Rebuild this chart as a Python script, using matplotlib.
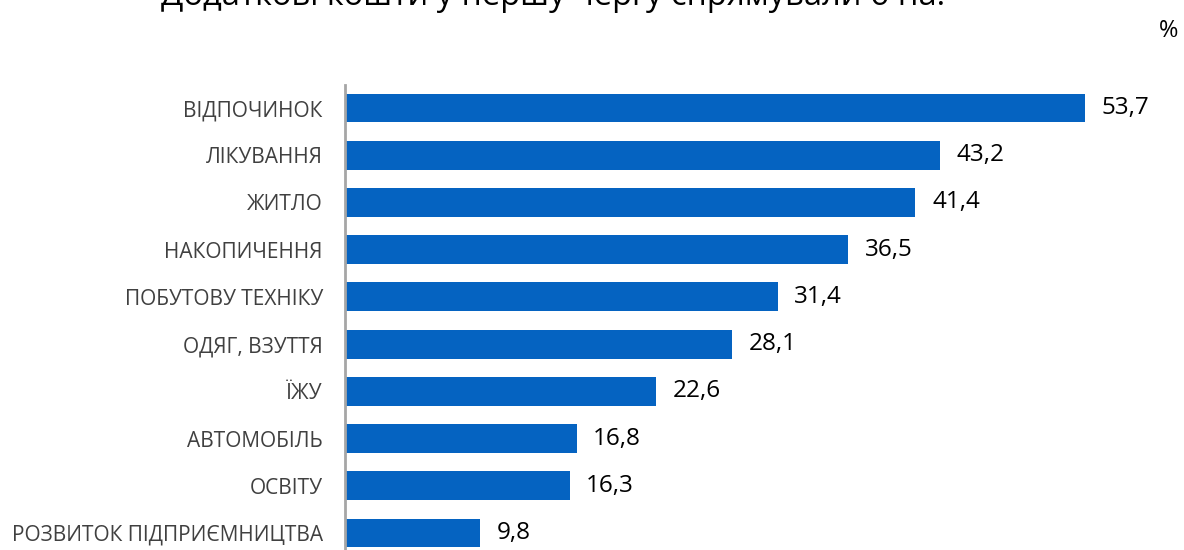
import matplotlib
matplotlib.use("Agg")
import matplotlib.pyplot as plt

categories = ["ВІДПОЧИНОК", "ЛІКУВАННЯ", "ЖИТЛО", "НАКОПИЧЕННЯ", "ПОБУТОВУ ТЕХНІКУ",
              "ОДЯГ, ВЗУТТЯ", "ЇЖУ", "АВТОМОБІЛЬ", "ОСВІТУ", "РОЗВИТОК ПІДПРИЄМНИЦТВА"]
values = [53.7, 43.2, 41.4, 36.5, 31.4, 28.1, 22.6, 16.8, 16.3, 9.8]
value_labels = ["53,7", "43,2", "41,4", "36,5", "31,4", "28,1", "22,6", "16,8", "16,3", "9,8"]
title = "Додаткові кошти у першу чергу спрямували б на:"

plt.rcParams['font.family'] = ['Open Sans', 'DejaVu Sans']

W, H = 1184, 550
fig = plt.figure(figsize=(W / 100, H / 100), dpi=100)
left_px, top_px = 345, 85
ax = fig.add_axes([left_px / W, 0, 1 - left_px / W, 1 - top_px / H])

pos = list(range(len(categories)))
ax.barh(pos, values, height=0.61, color="#0563C1")
ppu_y = 47.2
ax.set_ylim(9 + 17 / ppu_y, -23 / ppu_y)
ax.set_xlim(0, (W - left_px) / 13.78)

for p, v, lab in zip(pos, values, value_labels):
    ax.annotate(lab, (v, p), xytext=(12, 0), textcoords="offset points",
                va="center", ha="left", fontsize=17.5, color="black")

ax.set_yticks(pos)
ax.set_yticklabels(categories, fontsize=15, color="#404040")
ax.tick_params(axis="y", length=0, pad=16)
ax.set_xticks([])
for s in ["top", "right", "bottom"]:
    ax.spines[s].set_visible(False)
ax.spines["left"].set_color("#A6A6A6")
ax.spines["left"].set_linewidth(2)

fig.text(553 / W, 1 - 5 / H, title, ha="center", va="baseline", fontsize=23.5, color="black")
fig.text(1169 / W, 1 - 31 / H, "%", ha="center", va="center", fontsize=17, color="black")

fig.savefig("out.png", dpi=100)
